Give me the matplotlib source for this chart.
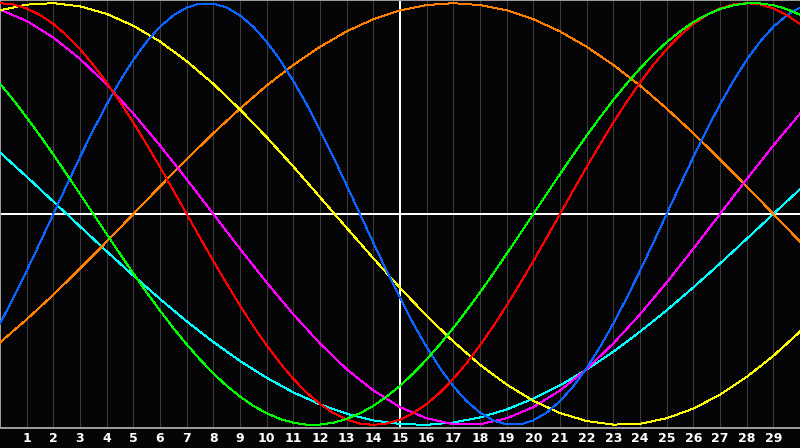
import matplotlib
matplotlib.use("Agg")
import matplotlib.pyplot as plt

# days along the bottom axis
days = list(range(0, 31))
half_days = [d / 2 for d in range(0, 61)]
tick_days = list(range(1, 30))

# fast cycles, read every half day (-1 .. 1)
blue = [-0.520, -0.398, -0.270, -0.136, 0.0, 0.136, 0.270, 0.398, 0.520, 0.631,
        0.731, 0.817, 0.888, 0.942, 0.979, 0.998, 0.998, 0.979, 0.942, 0.888,
        0.817, 0.731, 0.631, 0.520, 0.398, 0.270, 0.136, 0.0, -0.136, -0.270,
        -0.398, -0.520, -0.631, -0.731, -0.817, -0.888, -0.942, -0.979, -0.998, -0.998,
        -0.979, -0.942, -0.888, -0.817, -0.731, -0.631, -0.520, -0.398, -0.270, -0.136,
        0.0, 0.136, 0.270, 0.398, 0.520, 0.631, 0.731, 0.817, 0.888, 0.942, 0.979]
red = [1.0, 0.994, 0.975, 0.944, 0.901, 0.847, 0.782, 0.707, 0.623, 0.532,
       0.434, 0.330, 0.223, 0.112, 0.0, -0.112, -0.223, -0.330, -0.434, -0.532,
       -0.623, -0.707, -0.782, -0.847, -0.901, -0.944, -0.975, -0.994, -1.0, -0.994,
       -0.975, -0.944, -0.901, -0.847, -0.782, -0.707, -0.623, -0.532, -0.434, -0.330,
       -0.223, -0.112, 0.0, 0.112, 0.223, 0.330, 0.434, 0.532, 0.623, 0.707,
       0.782, 0.847, 0.901, 0.944, 0.975, 0.994, 1.0, 0.994, 0.975, 0.944, 0.901]
green = [0.618, 0.541, 0.458, 0.372, 0.282, 0.189, 0.095, 0.0, -0.095, -0.189,
         -0.282, -0.372, -0.458, -0.541, -0.618, -0.690, -0.756, -0.815, -0.866, -0.910,
         -0.945, -0.972, -0.990, -0.999, -0.999, -0.990, -0.972, -0.945, -0.910, -0.866,
         -0.815, -0.756, -0.690, -0.618, -0.541, -0.458, -0.372, -0.282, -0.189, -0.095,
         0.0, 0.095, 0.189, 0.282, 0.372, 0.458, 0.541, 0.618, 0.690, 0.756,
         0.815, 0.866, 0.910, 0.945, 0.972, 0.990, 0.999, 0.999, 0.990, 0.972, 0.945]

# slow cycles, read once a day
magenta = [0.969, 0.916, 0.837, 0.736, 0.614, 0.476, 0.325, 0.165, 0.0, -0.165,
           -0.325, -0.476, -0.614, -0.736, -0.837, -0.916, -0.969, -0.997, -0.997, -0.969,
           -0.916, -0.837, -0.736, -0.614, -0.476, -0.325, -0.165, 0.0, 0.165, 0.325, 0.476]
yellow = [0.966, 0.993, 1.0, 0.985, 0.949, 0.893, 0.818, 0.725, 0.617, 0.496,
          0.364, 0.225, 0.080, -0.066, -0.210, -0.350, -0.483, -0.605, -0.715, -0.809,
          -0.886, -0.944, -0.982, -0.999, -0.995, -0.969, -0.923, -0.857, -0.773, -0.673, -0.558]
orange = [-0.609, -0.5, -0.383, -0.259, -0.131, 0.0, 0.131, 0.259, 0.383, 0.5,
          0.609, 0.707, 0.793, 0.866, 0.924, 0.966, 0.991, 1.0, 0.991, 0.966,
          0.924, 0.866, 0.793, 0.707, 0.609, 0.5, 0.383, 0.259, 0.131, 0.0, -0.131]
cyan = [0.292, 0.177, 0.059, -0.059, -0.177, -0.292, -0.403, -0.509, -0.607, -0.697,
        -0.777, -0.846, -0.903, -0.947, -0.979, -0.996, -1.0, -0.989, -0.965, -0.927,
        -0.876, -0.813, -0.738, -0.653, -0.558, -0.457, -0.348, -0.235, -0.118, 0.0, 0.118]

series = [
    (days, cyan, '#00ffff'),
    (days, orange, '#ff8000'),
    (days, magenta, '#ff00ff'),
    (days, yellow, '#ffff00'),
    (half_days, blue, '#0a64ff'),
    (half_days, red, '#ff0000'),
    (half_days, green, '#00ff00'),
]

bg = '#050508'
fig = plt.figure(figsize=(8, 4.48), dpi=100, facecolor=bg)
ax = fig.add_axes([0, 20 / 448, 1, 428 / 448])
ax.set_facecolor(bg)

# faint day grid
for d in tick_days:
    ax.axvline(d, color='#3a3a3a', lw=0.7, zorder=1, antialiased=False)

# centre cross
ax.axvline(15, color='white', lw=1.3, zorder=2, antialiased=False)
ax.axhline(0, color='white', lw=1.3, zorder=2, antialiased=False)

for xs, vals, col in series:
    ax.plot(xs, vals, color=col, lw=0.7, zorder=3, antialiased=False)

ax.set_xlim(0, 30)
ax.set_ylim(-1.015, 1.015)

for name in ['left', 'top', 'bottom']:
    ax.spines[name].set_color('#a0a0a0')
    ax.spines[name].set_linewidth(1.4)
ax.spines['right'].set_visible(False)

ax.set_yticks([])
ax.set_xticks(tick_days)
ax.set_xticklabels([str(d) for d in tick_days], color='white',
                   fontsize=9, fontweight='bold')
ax.tick_params(axis='x', length=0, pad=3)

fig.savefig('out.png', dpi=100, facecolor=bg)
